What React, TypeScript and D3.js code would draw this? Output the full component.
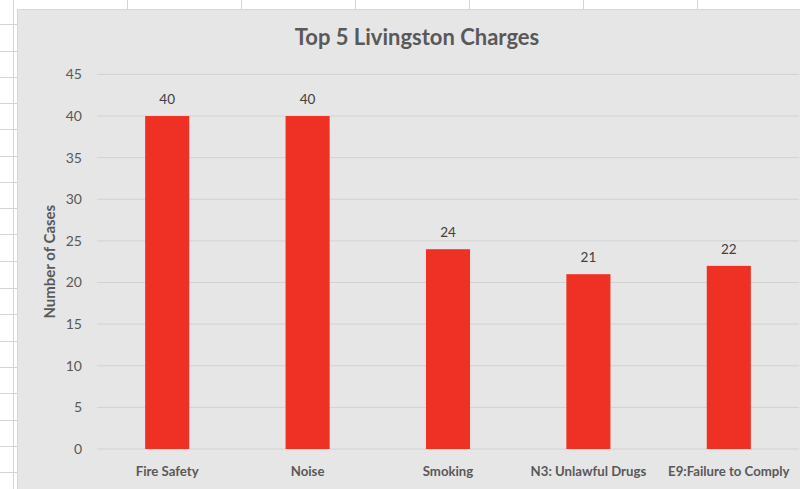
import React from "react";
import * as d3 from "d3";

// Chart data
const categories: string[] = [
    "Fire Safety",
    "Noise",
    "Smoking",
    "N3: Unlawful Drugs",
    "E9:Failure to Comply",
];
const cases: number[] = [40, 40, 24, 21, 22];
const yTicks: number[] = [0, 5, 10, 15, 20, 25, 30, 35, 40, 45];

const width = 800;
const height = 489;
const font = "Lato, 'Open Sans', 'DejaVu Sans', sans-serif";

// spreadsheet grid behind the chart
const colLines: number[] = [13, 127, 241, 355, 469, 583, 697];
const rowLines: number[] = [24, 51, 77, 103, 129, 156, 182, 208, 234, 261, 288, 314, 341, 367, 393, 420, 446, 472];

const App: React.FC = () => {
    const chartLeft = 17;
    const chartTop = 9;
    const plot = { left: 97, right: 799, top: 74.4, bottom: 449 };

    const x = d3
        .scaleBand<string>()
        .domain(categories)
        .range([plot.left, plot.right])
        .paddingInner(0.686)
        .paddingOuter(0.343);

    const y = d3.scaleLinear().domain([0, 45]).range([plot.bottom, plot.top]);

    return (
        <svg
            width={width}
            height={height}
            style={{ position: "absolute", left: 0, top: 0, background: "#ffffff" }}
        >
            {/* Spreadsheet cells */}
            <g stroke="#d4d4d4" strokeWidth={1}>
                {colLines.map((cx) => (
                    <line key={"c" + cx} x1={cx + 0.5} x2={cx + 0.5} y1={0} y2={height} />
                ))}
                {rowLines.map((ry) => (
                    <line key={"r" + ry} x1={0} x2={chartLeft} y1={ry + 0.5} y2={ry + 0.5} />
                ))}
            </g>

            {/* Chart area */}
            <rect
                x={chartLeft + 0.5}
                y={chartTop + 0.5}
                width={width}
                height={height}
                fill="#e6e6e6"
                stroke="#d6d6d6"
            />

            <text
                x={417}
                y={45}
                textAnchor="middle"
                fontFamily={font}
                fontWeight="bold"
                fontSize={22}
                fill="#595959"
            >
                Top 5 Livingston Charges
            </text>

            {/* Gridlines and y ticks */}
            <g>
                {yTicks.map((t) => (
                    <g key={t}>
                        <line
                            x1={plot.left}
                            x2={plot.right}
                            y1={y(t)}
                            y2={y(t)}
                            stroke="#d2d2d2"
                            strokeWidth={1}
                        />
                        <text
                            x={82}
                            y={y(t)}
                            dy="0.35em"
                            textAnchor="end"
                            fontFamily={font}
                            fontSize={14}
                            fill="#595959"
                        >
                            {t}
                        </text>
                    </g>
                ))}
            </g>

            <text
                transform={`translate(55, ${(plot.top + plot.bottom) / 2}) rotate(-90)`}
                textAnchor="middle"
                fontFamily={font}
                fontWeight="bold"
                fontSize={15}
                fill="#595959"
            >
                Number of Cases
            </text>

            {/* Bars */}
            <g>
                {categories.map((c, i) => (
                    <g key={c}>
                        <rect
                            x={x(c)!}
                            y={y(cases[i])}
                            width={x.bandwidth()}
                            height={plot.bottom - y(cases[i])}
                            fill="#ee3124"
                        />
                        <text
                            x={x(c)! + x.bandwidth() / 2}
                            y={y(cases[i]) - 12}
                            textAnchor="middle"
                            fontFamily={font}
                            fontSize={13.5}
                            fill="#404040"
                        >
                            {cases[i]}
                        </text>
                        <text
                            x={x(c)! + x.bandwidth() / 2}
                            y={476}
                            textAnchor="middle"
                            fontFamily={font}
                            fontWeight="bold"
                            fontSize={13.2}
                            fill="#595959"
                        >
                            {c}
                        </text>
                    </g>
                ))}
            </g>
        </svg>
    );
};

export default App;
